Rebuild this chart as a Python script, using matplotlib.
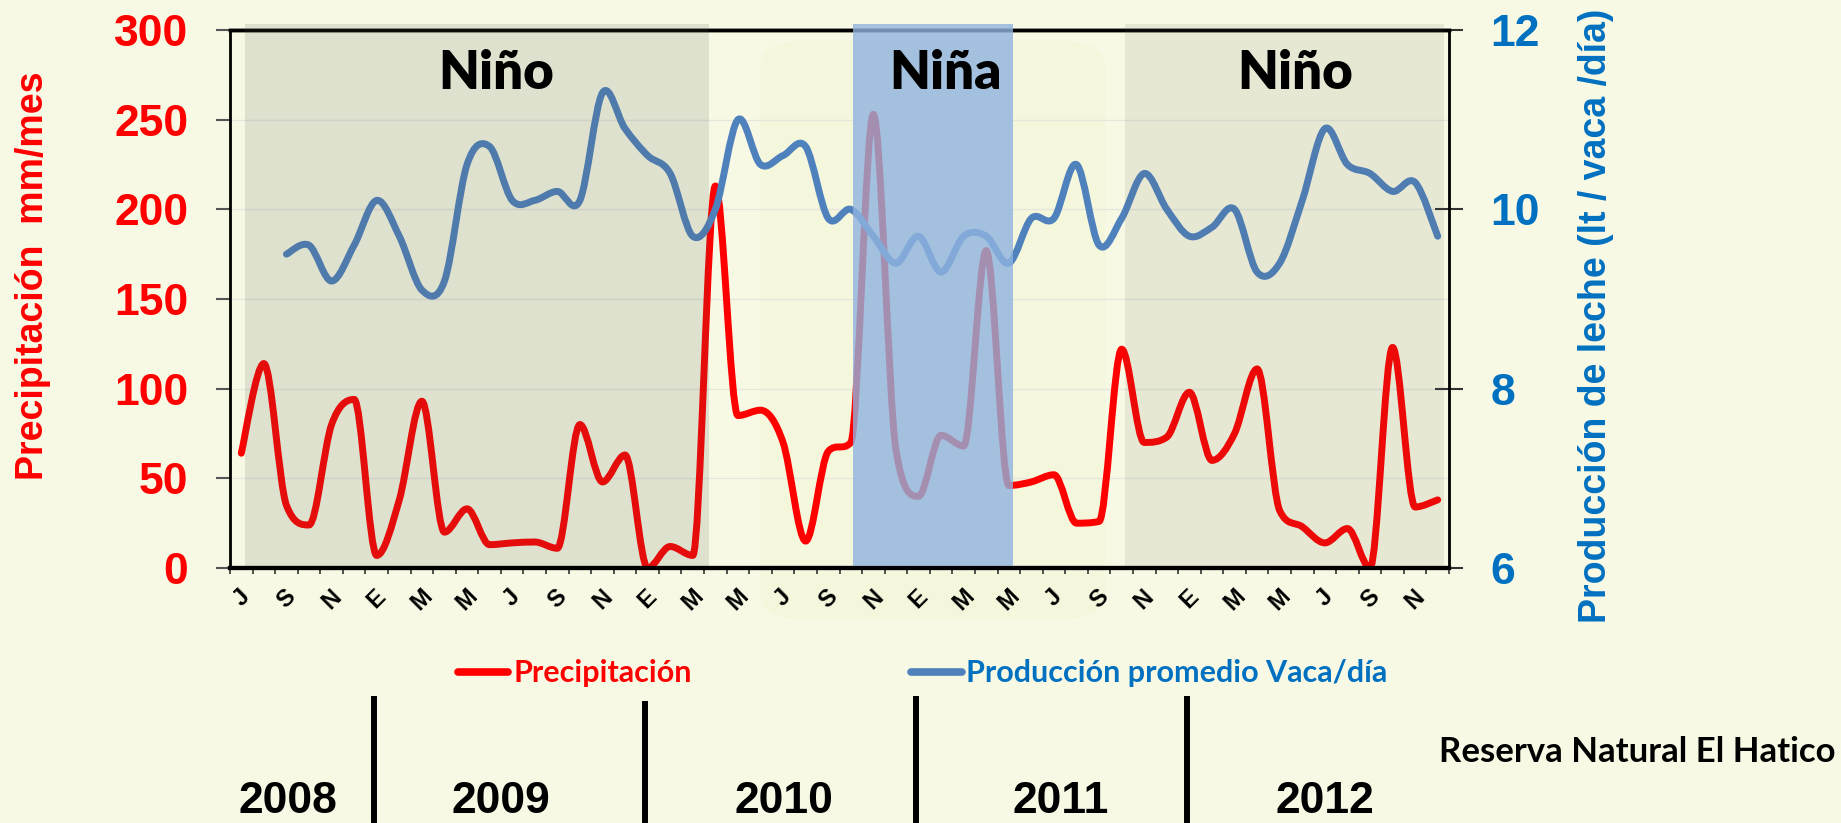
import numpy as np
import matplotlib.pyplot as plt
import matplotlib.transforms as mtransforms
from matplotlib.path import Path
from matplotlib.patches import PathPatch, FancyBboxPatch
from matplotlib.lines import Line2D

# months Jul 2008 .. Dec 2012 (Spanish initials)
month_initials = ['J', 'A', 'S', 'O', 'N', 'D',
                  'E', 'F', 'M', 'A', 'M', 'J', 'J', 'A', 'S', 'O', 'N', 'D',
                  'E', 'F', 'M', 'A', 'M', 'J', 'J', 'A', 'S', 'O', 'N', 'D',
                  'E', 'F', 'M', 'A', 'M', 'J', 'J', 'A', 'S', 'O', 'N', 'D',
                  'E', 'F', 'M', 'A', 'M', 'J', 'J', 'A', 'S', 'O', 'N', 'D']

# precipitation mm/month
precip = [64, 114, 35, 24, 80, 94, 7, 38, 93, 20, 33, 13, 14, 14.5, 11, 80, 48, 63,
          0, 12, 7, 213, 85, 88, 70, 15, 65, 70, 253, 66, 40, 74, 68, 177, 46, 48,
          52, 25, 26, 122, 70, 73, 98, 60, 75, 111, 32, 23, 14, 22, 0, 123, 34, 38]

# milk production lt / cow / day
milk = [np.nan, np.nan, 9.5, 9.6, 9.2, 9.6, 10.1, 9.7, 9.1, 9.2, 10.5, 10.7, 10.1,
        10.1, 10.2, 10.1, 11.3, 10.9, 10.6, 10.4, 9.7, 10.0, 11.0, 10.5, 10.6, 10.7,
        9.9, 10.0, 9.7, 9.4, 9.7, 9.3, 9.7, 9.7, 9.4, 9.9, 9.9, 10.5, 9.6, 9.9, 10.4,
        10.0, 9.7, 9.8, 10.0, 9.3, 9.4, 10.1, 10.9, 10.5, 10.4, 10.2, 10.3, 9.7]

# ENSO periods (start, end in month index)
nino_names = ['Niño', 'Niña', 'Niño']
nino_start = [0.16, 27.1, 39.15]
nino_end = [20.7, 34.17, 53.3]

years = ['2008', '2009', '2010', '2011', '2012']
year_pos = [2.07, 11.5, 24.05, 36.3, 48.0]
year_breaks = [5.5, 17.5, 29.5, 41.5]

BG = '#F8F9E4'
RED = '#FF0000'
BLUE = '#4F81BD'
BLUE_TXT = '#0070C0'


def smooth_path(x, y, clamp=False):
    # Excel-like smoothed line: cubic bezier through the points
    pts = np.column_stack([x, y]).astype(float)
    n = len(pts)
    tang = np.zeros_like(pts)
    for i in range(n):
        a = pts[max(i - 1, 0)]
        b = pts[min(i + 1, n - 1)]
        t = (b - a) / 6
        if clamp:
            y0, y1, y2 = a[1], pts[i][1], b[1]
            if (y1 - y0) * (y2 - y1) <= 0 and 0 < i < n - 1:
                t[1] = 0
            else:
                lim = min(abs(y2 - y1) if i < n - 1 else np.inf,
                          abs(y1 - y0) if i > 0 else np.inf)
                t[1] = np.sign(t[1]) * min(abs(t[1]), lim)
        tang[i] = t
    verts = [pts[0]]
    codes = [Path.MOVETO]
    for i in range(n - 1):
        verts += [pts[i] + tang[i], pts[i + 1] - tang[i + 1], pts[i + 1]]
        codes += [Path.CURVE4] * 3
    return Path(verts, codes)


def plot_chart():
    plt.rcParams['font.family'] = ['Liberation Sans', 'DejaVu Sans']
    plt.rcParams['font.weight'] = 'bold'

    fig = plt.figure(figsize=(18.41, 8.23), dpi=100, facecolor=BG)
    ax = fig.add_axes([230 / 1841, 1 - 568 / 823, 1219 / 1841, 538 / 823])
    ax.set_facecolor('none')
    ax2 = ax.twinx()
    ax2.patch.set_visible(False)

    # faint watermark logo behind the chart
    logo = FancyBboxPatch((760 / 1841, 1 - 620 / 823), 345 / 1841, 580 / 823,
                          boxstyle='round,pad=0,rounding_size=0.03',
                          transform=fig.transFigure, facecolor='#EDF1C4', alpha=0.2,
                          lw=0, zorder=0.1, clip_on=False)
    ax.add_patch(logo)

    x = np.arange(len(precip))
    ax.add_patch(PathPatch(smooth_path(x, precip, clamp=True), fill=False,
                           edgecolor=RED, lw=5, capstyle='round', joinstyle='round', zorder=2))

    m = np.array(milk, float)
    ok = ~np.isnan(m)
    ax2.add_patch(PathPatch(smooth_path(x[ok], m[ok]), fill=False,
                            edgecolor=BLUE, lw=5, capstyle='round', joinstyle='round', zorder=2))

    # ENSO shading on top of the lines
    for name, s, e in zip(nino_names, nino_start, nino_end):
        if name == 'Niña':
            ax2.axvspan(s, e, ymin=0, ymax=1.012, color='#8FB4DF', alpha=0.8,
                        lw=0, zorder=3, clip_on=False)
        else:
            a = 0.15 if s < 10 else 0.10
            ax2.axvspan(s, e, ymin=0, ymax=1.012, color='#505A50', alpha=a,
                        lw=0, zorder=3, clip_on=False)
    label_x = [11.3, 31.2, 46.7]
    for name, lx in zip(nino_names, label_x):
        ax2.text(lx, 267, name, transform=ax.transData, ha='center', va='baseline',
                 fontsize=38, fontweight='heavy', family='Lato', color='black', zorder=6)

    ax.set_xlim(-0.5, len(precip) - 0.5)
    ax.set_ylim(0, 300)
    ax2.set_ylim(6, 12)
    ax.set_yticks(range(0, 301, 50))
    ax2.set_yticks([6, 8, 10, 12])
    ax.yaxis.grid(True, color='#E6E6DC', lw=1)
    ax.set_axisbelow(True)

    ax.set_xticks(x[::2])
    ax.set_xticklabels(month_initials[::2])
    ax.set_xticks(np.arange(-0.5, len(precip), 1), minor=True)
    ax.tick_params(axis='x', which='major', length=0, pad=12, labelsize=17, rotation=45)
    ax.tick_params(axis='x', which='minor', length=4.5, width=1.2, color='#333333')
    for lbl in ax.get_xticklabels():
        lbl.set_ha('center')
        lbl.set_fontweight('heavy')

    ax.tick_params(axis='y', labelsize=32, labelcolor=RED, length=10, width=1.5,
                   pad=20, color='#555555')
    ax2.tick_params(axis='y', labelsize=32, labelcolor=BLUE_TXT, direction='inout',
                    length=20, width=1.5, pad=20, color='#333333')

    for sp in ['left', 'right', 'top', 'bottom']:
        ax.spines[sp].set_color('black')
        ax2.spines[sp].set_color('black')
    ax.spines['top'].set_linewidth(2.5)
    ax.spines['left'].set_linewidth(2)
    ax.spines['bottom'].set_linewidth(3)
    ax2.spines['bottom'].set_linewidth(3)
    ax2.spines['bottom'].set_zorder(5)
    ax2.spines['right'].set_linewidth(2)
    ax2.spines['top'].set_linewidth(2.5)

    ax.set_ylabel('Precipitación  mm/mes', fontsize=27, fontweight='bold',
                  color=RED, va='center')
    ax.yaxis.set_label_coords(-0.1616, 0.543)
    ax2.set_ylabel('Producción de leche (lt / vaca /día)', fontsize=27, fontweight='bold',
                   color=BLUE_TXT, rotation=90, va='center')
    ax2.yaxis.set_label_coords(1.121, 0.468)

    # legend drawn under the chart
    fx = lambda px: px / 1841
    fy = lambda py: 1 - py / 823
    fig.add_artist(Line2D([fx(458), fx(508)], [fy(672), fy(672)], color=RED, lw=5.5,
                          solid_capstyle='round'))
    fig.text(fx(513), fy(673), 'Precipitación', color=RED, fontsize=22,
             family='Lato', fontweight='bold', ha='left', va='center')
    fig.add_artist(Line2D([fx(911), fx(962)], [fy(672), fy(672)], color=BLUE, lw=5.5,
                          solid_capstyle='round'))
    fig.text(fx(966), fy(673), 'Producción promedio Vaca/día', color=BLUE_TXT,
             fontsize=22, family='Lato', fontweight='bold', ha='left', va='center')

    fig.text(fx(1637), fy(752), 'Reserva Natural El Hatico', color='black', fontsize=25,
             family='Lato', fontweight='bold', ha='center', va='center')

    # years and separators below the axis
    trans = mtransforms.blended_transform_factory(ax.transData, fig.transFigure)
    for yr, px in zip(years, year_pos):
        fig.text(px, fy(822), yr, transform=trans, ha='center', va='bottom',
                 fontsize=32, fontweight='bold', color='black')
    for i, b in enumerate(year_breaks):
        top = 704 if i == 1 else 699
        fig.add_artist(Line2D([b + 0.4, b + 0.4], [fy(top), fy(820)], transform=trans,
                              color='black', lw=4.3))

    fig.savefig('out.png', dpi=100, facecolor=BG)


def main():
    plot_chart()


if __name__ == "__main__":
    main()
